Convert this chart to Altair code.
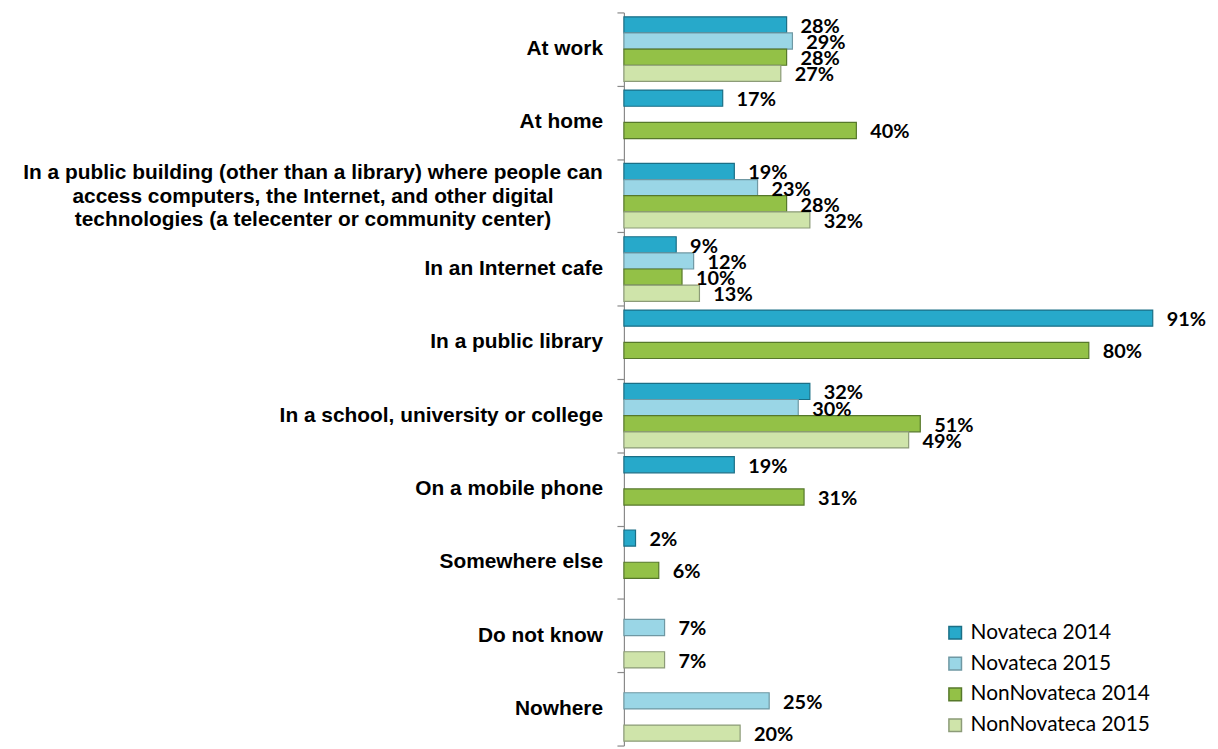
import altair as alt
import pandas as pd

categories = ["At work", "At home", "Public building", "In an Internet cafe",
              "In a public library", "In a school, university or college",
              "On a mobile phone", "Somewhere else", "Do not know", "Nowhere"]
cat_labels = ["At work", "At home",
              "In a public building (other than a library) where people can|access computers, the Internet, and other digital|technologies (a telecenter or community center)",
              "In an Internet cafe", "In a public library", "In a school, university or college",
              "On a mobile phone", "Somewhere else", "Do not know", "Nowhere"]
series = ["Novateca 2014", "Novateca 2015", "NonNovateca 2014", "NonNovateca 2015"]

nov2014 = [28, 17, 19, 9, 91, 32, 19, 2, None, None]
nov2015 = [29, None, 23, 12, None, 30, None, None, 7, 25]
non2014 = [28, 40, 28, 10, 80, 51, 31, 6, None, None]
non2015 = [27, None, 32, 13, None, 49, None, None, 7, 20]

fills = ["#27a9ca", "#9ad6e6", "#93c147", "#cfe4aa"]
strokes = ["#1b6f86", "#6f98a3", "#56782a", "#8c9b78"]

rows = []
for s, vals in zip(series, [nov2014, nov2015, non2014, non2015]):
    for c, v in zip(categories, vals):
        if v is not None:
            rows.append({"cat": c, "s": s, "v": v, "lab": f"{v}%"})
df = pd.DataFrame(rows)

cdf = pd.DataFrame({"cat": categories, "label": cat_labels,
                    "multi": ["|" in l for l in cat_labels]})

yenc = alt.Y("cat:N", sort=categories,
             scale=alt.Scale(paddingInner=0, paddingOuter=0),
             axis=alt.Axis(title=None, labels=False, tickBand="extent", tickSize=7,
                           domainColor="#8a8a8a", tickColor="#8a8a8a",
                           domainWidth=1.2, tickWidth=1.2, grid=False))
xenc = alt.X("v:Q", scale=alt.Scale(domain=[0, 100]), axis=None)
yoff = alt.YOffset("s:N", sort=series,
                   scale=alt.Scale(domain=series, paddingInner=0, paddingOuter=0.27))

bars = alt.Chart(df).mark_bar(strokeWidth=1.2).encode(
    x=xenc, y=yenc, yOffset=yoff,
    fill=alt.Fill("s:N", sort=series, title=None,
                  scale=alt.Scale(domain=series, range=fills)),
    stroke=alt.Stroke("s:N", sort=series, title=None,
                      scale=alt.Scale(domain=series, range=strokes)),
)

vals = alt.Chart(df).mark_text(align="left", baseline="middle", dx=14, dy=2,
                               font="Lato", fontWeight="bold", fontSize=20,
                               color="black").encode(
    x=xenc, y=yenc, yOffset=yoff, text="lab:N")

single = alt.Chart(cdf).transform_filter("!datum.multi").mark_text(
    align="right", baseline="middle", font="Liberation Sans", fontWeight="bold",
    fontSize=21, color="black").encode(
    x=alt.value(-21), y=yenc, text="label:N")

multi = alt.Chart(cdf).transform_filter("datum.multi").mark_text(
    align="center", baseline="middle", font="Liberation Sans", fontWeight="bold",
    fontSize=21, lineBreak="|", lineHeight=24, dy=-23, color="black").encode(
    x=alt.value(-313), y=yenc, text="label:N")

chart = alt.layer(bars, vals, single, multi).properties(
    width=585, height=738,
    autosize=alt.AutoSizeParams(type="none"),
    padding={"left": 620, "top": 2, "right": 5, "bottom": 0},
).configure_view(stroke=None).configure_legend(
    orient="none", legendX=323, legendY=614, padding=0,
    symbolType="square", symbolSize=160, symbolStrokeWidth=1.5,
    labelFont="Lato", labelFontSize=21, labelColor="black", labelLimit=400,
    rowPadding=9, labelOffset=5,
)

chart.save("out.html", embed_options={"renderer": "svg", "actions": False})
